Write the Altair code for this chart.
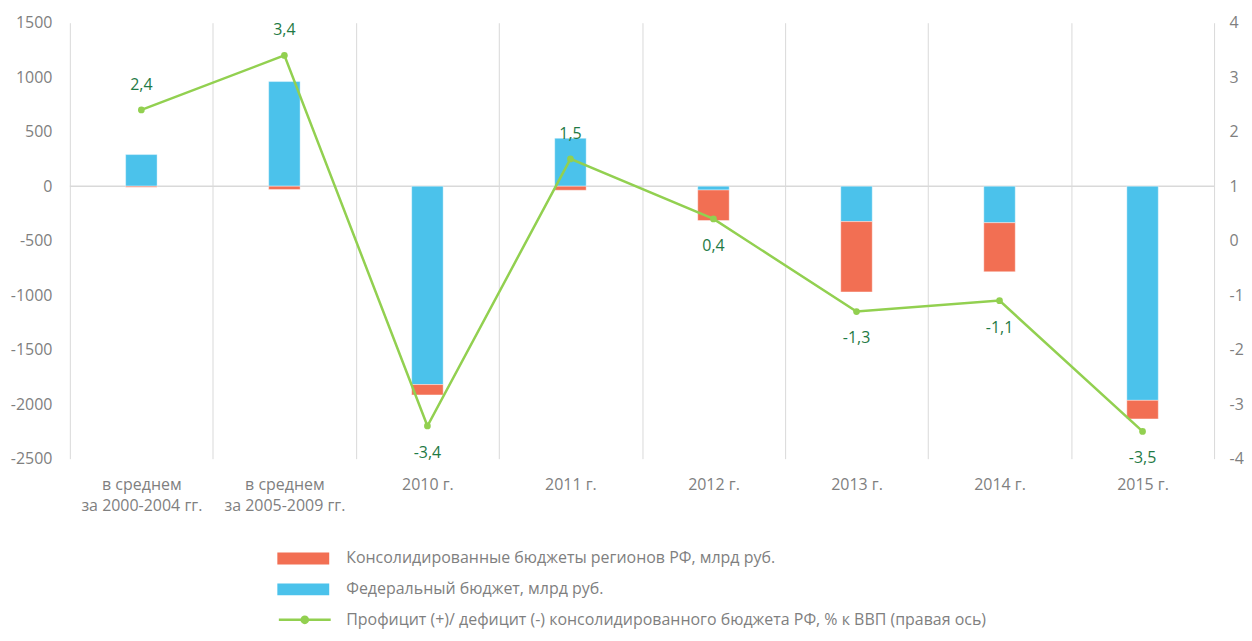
import altair as alt
import pandas as pd

categories = ["в среднем\nза 2000-2004 гг.", "в среднем\nза 2005-2009 гг.", "2010 г.", "2011 г.",
              "2012 г.", "2013 г.", "2014 г.", "2015 г."]
federal = [290, 960, -1820, 440, -35, -325, -335, -1965]
regions = [-10, -30, -95, -37, -280, -645, -450, -170]
balance = [2.4, 3.4, -3.4, 1.5, 0.4, -1.3, -1.1, -3.5]
left_ticks = [-2500, -2000, -1500, -1000, -500, 0, 500, 1000, 1500]
right_ticks = [-4, -3, -2, -1, 0, 1, 2, 3, 4]

s_reg = "Консолидированные бюджеты регионов РФ, млрд руб."
s_fed = "Федеральный бюджет, млрд руб."
s_line = "Профицит (+)/ дефицит (-) консолидированного бюджета РФ, % к ВВП (правая ось)"

bars_df = pd.DataFrame({
    "cat": categories * 2,
    "series": [s_fed] * len(categories) + [s_reg] * len(categories),
    "value": federal + regions,
    "ord": [0] * len(categories) + [1] * len(categories),
})
line_df = pd.DataFrame({"cat": categories, "v": balance, "series": [s_line] * len(categories)})

FONT = "Open Sans"
GREY = "#7f7f7f"
GRID = "#d9d9d9"
RED = "#f26f53"
BLUE = "#4bc2eb"
GREEN = "#92d050"
DKGREEN = "#1f7a45"
FS = 16

def x_enc():
    return alt.X("cat:N", sort=categories, title=None,
                 scale=alt.Scale(paddingInner=0, paddingOuter=0),
                 axis=alt.Axis(labelExpr="datum.value ? split(datum.value, '\\n') : ''",
                               labelAngle=0, ticks=False,
                               domain=False, grid=True, tickBand="extent", gridColor=GRID,
                               labelPadding=18, labelLineHeight=21, labelColor=GREY,
                               labelFontSize=FS, labelFont=FONT))

zero = alt.Chart(pd.DataFrame({"z": [0]})).mark_rule(color=GRID, strokeWidth=1.5).encode(
    y=alt.Y("z:Q")
)

bars = alt.Chart(bars_df).mark_bar(width=alt.RelativeBandSize(0.22), stroke="#ffffff",
                                   strokeWidth=0.8, strokeOpacity=0.5).encode(
    x=x_enc(),
    y=alt.Y("value:Q", stack="zero", title=None,
            scale=alt.Scale(domain=[-2500, 1500], nice=False),
            axis=alt.Axis(values=left_ticks, labelExpr="'' + datum.value", ticks=False,
                          domain=False, grid=False,
                          labelPadding=18, labelColor=GREY, labelFontSize=FS, labelFont=FONT,
                          minExtent=62, maxExtent=62)),
    color=alt.Color("series:N", scale=alt.Scale(domain=[s_reg, s_fed], range=[RED, BLUE]),
                    legend=alt.Legend(orient="none", legendX=221, legendY=524, title=None,
                                      direction="vertical",
                                      symbolType="M-2,-0.46H2V0.46H-2Z", symbolSize=676,
                                      symbolStrokeWidth=0, rowPadding=10, labelOffset=30,
                                      labelFontSize=FS, labelFont=FONT, labelColor=GREY,
                                      labelLimit=900)),
    order=alt.Order("ord:Q"),
)

left = alt.layer(zero, bars)

y_right = alt.Y("v:Q", title=None, scale=alt.Scale(domain=[-4, 4], nice=False),
                axis=alt.Axis(orient="right", values=right_ticks, labelExpr="'' + datum.value",
                              ticks=False, domain=False,
                              grid=False, labelPadding=15, labelColor=GREY, labelFontSize=FS,
                              labelFont=FONT))

line = alt.Chart(line_df).mark_line(strokeWidth=2.5).encode(
    x=x_enc(),
    y=y_right,
    stroke=alt.Stroke("series:N", scale=alt.Scale(domain=[s_line], range=[GREEN]),
                      legend=alt.Legend(orient="none", legendX=221, legendY=584, title=None,
                                        symbolType="M-2,0H2M0.24,0A0.24,0.24,0,1,1,-0.24,0A0.24,0.24,0,1,1,0.24,0",
                                        symbolSize=676, symbolStrokeWidth=2.5,
                                        symbolFillColor=GREEN, labelOffset=27,
                                        labelFontSize=FS, labelFont=FONT, labelColor=GREY,
                                        labelLimit=900)),
)

pts = alt.Chart(line_df).mark_circle(size=45, color=GREEN, opacity=1).encode(
    x=x_enc(), y=y_right
)

lbl_expr = "replace('' + datum.v, '.', ',')"
above = alt.Chart(line_df).transform_filter("datum.v >= 1").transform_calculate(
    lbl=lbl_expr).mark_text(dy=-25, color=DKGREEN, fontSize=FS, font=FONT).encode(
    x=x_enc(), y=y_right, text="lbl:N")
below = alt.Chart(line_df).transform_filter("datum.v < 1").transform_calculate(
    lbl=lbl_expr).mark_text(dy=27, color=DKGREEN, fontSize=FS, font=FONT).encode(
    x=x_enc(), y=y_right, text="lbl:N")

right = alt.layer(line, pts, above, below)

chart = alt.layer(left, right).resolve_scale(y="independent").properties(
    width=1147, height=437,
    padding={"left": 0, "top": 6, "right": 0, "bottom": 0},
).configure_view(stroke=None)

chart.save("out.html", embed_options={"renderer": "svg", "actions": False})
